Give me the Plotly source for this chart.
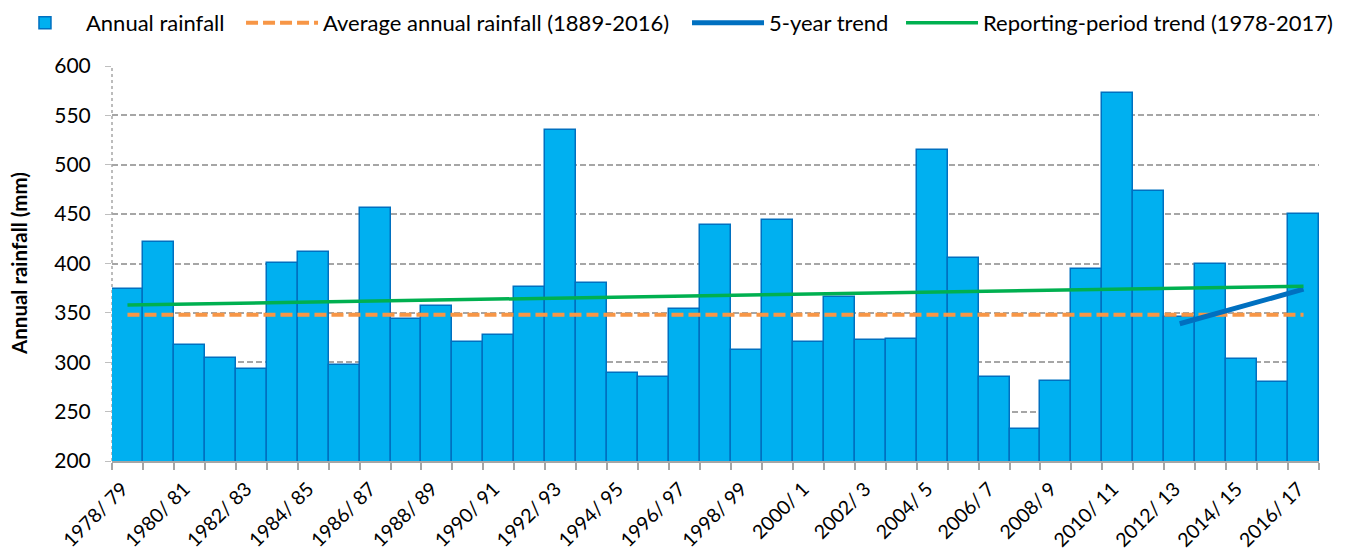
import plotly.graph_objects as go

categories = [
    "1978/ 79", "1979/ 80", "1980/ 81", "1981/ 82", "1982/ 83", "1983/ 84",
    "1984/ 85", "1985/ 86", "1986/ 87", "1987/ 88", "1988/ 89", "1989/ 90",
    "1990/ 91", "1991/ 92", "1992/ 93", "1993/ 94", "1994/ 95", "1995/ 96",
    "1996/ 97", "1997/ 98", "1998/ 99", "1999/ 00", "2000/ 1", "2001/ 2",
    "2002/ 3", "2003/ 4", "2004/ 5", "2005/ 6", "2006/ 7", "2007/ 8",
    "2008/ 9", "2009/ 10", "2010/ 11", "2011/ 12", "2012/ 13", "2013/ 14",
    "2014/ 15", "2015/ 16", "2016/ 17",
]
rainfall = [
    374, 422, 317, 304, 293, 401, 412, 297, 456, 344, 357, 321, 328, 376,
    535, 380, 289, 285, 354, 439, 312, 444, 321, 366, 323, 324, 515, 406,
    285, 232, 281, 394, 573, 473, 346, 400, 303, 280, 450,
]
average_rainfall = 348
five_year_cats = ["2012/ 13", "2016/ 17"]
five_year_vals = [339, 374]
period_trend_vals = [358, 377]

PAD = "\u00a0" * 2
tick_text = [c + PAD if i % 2 == 0 else "" for i, c in enumerate(categories)]

FONT = "Lato, 'Open Sans', sans-serif"

fig = go.Figure()
fig.add_trace(go.Bar(
    x=categories, y=rainfall, name="Annual rainfall", legend="legend",
    marker=dict(color="#00B0F0", line=dict(color="#0070C0", width=1.5)),
))
fig.add_trace(go.Scatter(
    x=[categories[0], categories[-1]], y=[average_rainfall, average_rainfall],
    mode="lines", name="Average annual rainfall (1889-2016)", legend="legend2",
    line=dict(color="#F79646", width=4, dash="12px,5px"),
))
fig.add_trace(go.Scatter(
    x=five_year_cats, y=five_year_vals, mode="lines", name="5-year trend",
    legend="legend3", line=dict(color="#0070C0", width=5),
))
fig.add_trace(go.Scatter(
    x=[categories[0], categories[-1]], y=period_trend_vals, mode="lines",
    name="Reporting-period trend (1978-2017)", legend="legend4",
    line=dict(color="#00B050", width=3.5),
))

def leg(x):
    return dict(orientation="h", x=x, xanchor="left", y=1.162, yanchor="top",
                font=dict(size=22), itemwidth=72, bgcolor="rgba(0,0,0,0)")

fig.update_layout(
    width=1341, height=550,
    margin=dict(l=104, r=30, t=58, b=97, autoexpand=False),
    paper_bgcolor="white", plot_bgcolor="white",
    font=dict(family=FONT, size=18, color="black"),
    bargap=0,
    showlegend=True,
    legend=leg(-0.0895), legend2=leg(0.1069), legend3=leg(0.4764), legend4=leg(0.6537),
    shapes=[dict(type="line", xref="paper", yref="paper", x0=0, x1=0, y0=0, y1=1,
                 line=dict(color="#A6A6A6", width=1.5, dash="dot"), layer="below")],
    annotations=[dict(text="<b>Annual rainfall (mm)</b>", textangle=-90,
                      xref="paper", yref="paper", x=-0.0775, y=0.50,
                      xanchor="center", yanchor="middle", showarrow=False,
                      font=dict(size=20.5))],
)
fig.update_xaxes(
    type="category", tickmode="array", tickvals=categories, ticktext=tick_text,
    tickangle=-45, tickson="boundaries", ticks="outside", ticklen=7,
    tickcolor="#A6A6A6", tickwidth=1.5, automargin=False, ticklabelshift=2,
    showline=True, linecolor="#A6A6A6", linewidth=2, showgrid=False,
    tickfont=dict(size=19.5), range=[-0.5, len(categories) - 0.5],
)
fig.update_yaxes(
    range=[200, 600], dtick=50, tick0=200, automargin=False,
    showgrid=True, gridcolor="#A6A6A6", griddash="6px,3px", gridwidth=1.5,
    ticks="outside", ticklen=6, tickcolor="#BFBFBF", ticklabelstandoff=10,
    showline=False, zeroline=False,
    tickfont=dict(size=21),
)

fig.write_html("out.html")
